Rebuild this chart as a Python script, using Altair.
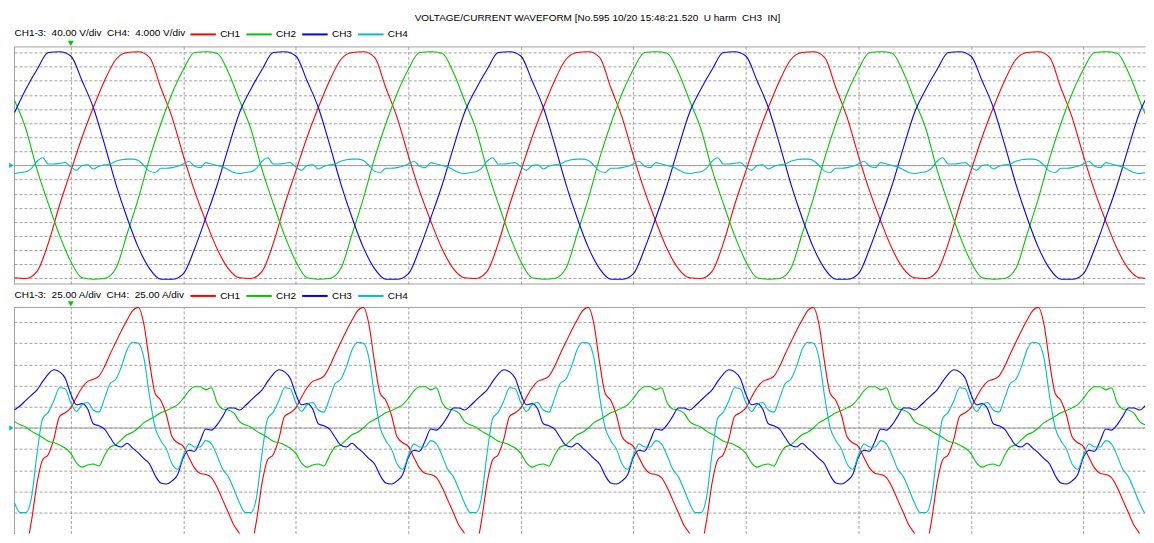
import altair as alt
import pandas as pd

FONT = "Liberation Sans"
GRAY = "#a0a0a0"
NB = "\u00a0"

TITLE = f"VOLTAGE/CURRENT WAVEFORM [No.595 10/20 15:48:21.520{NB}{NB}U harm{NB}{NB}CH3{NB}{NB}IN]"
V_SCALE_TEXT = f"CH1-3:{NB}{NB}40.00 V/div{NB}{NB}CH4:{NB}{NB}4.000 V/div"
I_SCALE_TEXT = f"CH1-3:{NB}{NB}25.00 A/div{NB}{NB}CH4:{NB}{NB}25.00 A/div"

CHANNELS = ["CH1", "CH2", "CH3", "CH4"]
COLORS = ["#ff0000", "#00c800", "#0000ff", "#00c0c0"]

PERIOD_MS = 20.0
N_PERIODS = 6
T_MIN, T_MAX = -0.05, 100.48
TIME_GRID = [5, 15, 25, 35, 45, 55, 65, 75, 85, 95]
TRIGGER_MS = 5.0

V_GRID = list(range(-8, 9))
V_DOMAIN = [-8.39, 8.43]
I_GRID = list(range(-5, 6))
I_DOMAIN = [-4.99, 5.72]

# ---- voltage, one period, divisions (1 ms steps for CH1-3, 0.5 ms for CH4)
V_STEP = 1.0
V_CH1 = [-7.95, -8.0, -7.5, -5.5, -2.8, -0.4, 2.0, 4.1, 6.0, 7.5,
         8.0, 8.05, 7.65, 5.5, 3.4, 0.7, -1.8, -3.95, -5.9, -7.3]
V_CH2 = [4.6, 2.6, -0.3, -2.7, -4.95, -6.8, -7.95, -8.05, -8.0, -7.3,
         -4.85, -2.35, 0.5, 2.95, 5.1, 6.8, 8.0, 8.05, 7.95, 6.6]
V_CH3 = [3.75, 5.4, 6.8, 8.0, 8.05, 7.75, 6.0, 4.1, 1.5, -1.3,
         -3.7, -5.8, -7.3, -8.05, -8.05, -7.67, -5.9, -3.7, -1.4, 1.25]
V4_STEP = 0.5
V_CH4 = [-0.57, -0.5, -0.45, -0.2, 0.3, 0.55, 0.1, 0.1, 0.15, 0.2,
         -0.1, -0.35, 0.0, 0.05, -0.25, -0.05, 0.05, 0.1, 0.3, 0.4,
         0.45, 0.45, 0.35, 0.0, -0.4, -0.5, -0.2, -0.2, -0.15, -0.05,
         0.1, 0.3, -0.05, -0.15, 0.2, 0.1, 0.0, -0.1, -0.3, -0.5]

# ---- current, one period, divisions (0.5 ms steps)
I_STEP = 0.5
I_CH1 = [-5.0, -5.7, -5.6, -4.4, -2.6, -1.5, -1.25, -0.5, 0.55, 0.72,
         0.95, 1.45, 1.9, 2.2, 2.3, 2.45, 2.9, 3.5, 4.05, 4.6,
         5.1, 5.55, 5.7, 4.9, 3.1, 1.63, 1.3, 0.6, -0.42, -0.7,
         -0.87, -1.4, -1.9, -2.15, -2.2, -2.35, -2.8, -3.4, -4.0, -4.6]
I_CH2 = [0.3, 0.15, 0.05, -0.15, -0.3, -0.45, -0.63, -0.7, -0.8, -0.95,
         -1.2, -1.65, -1.85, -1.75, -1.7, -1.8, -1.3, -0.9, -0.8, -0.55,
         -0.32, -0.2, 0.0, 0.25, 0.4, 0.55, 0.72, 0.82, 0.95, 1.1,
         1.4, 1.75, 1.95, 1.95, 1.8, 1.9, 1.2, 0.9, 0.85, 0.7]
I_CH3 = [0.85, 1.05, 1.3, 1.55, 1.8, 2.2, 2.55, 2.75, 2.65, 2.35,
         1.6, 1.1, 1.15, 0.9, 0.2, 0.1, -0.05, -0.45, -0.82, -0.9,
         -0.72, -0.95, -1.18, -1.45, -1.7, -2.25, -2.6, -2.65, -2.5, -2.2,
         -1.4, -1.05, -1.1, -0.6, -0.05, -0.1, 0.15, 0.55, 0.94, 0.94]
I_CH4 = [-3.55, -4.0, -4.0, -3.3, -1.2, 0.45, 0.75, 1.3, 1.9, 1.85,
         1.2, 0.78, 1.1, 1.2, 0.85, 0.75, 1.4, 2.1, 2.3, 2.9,
         3.7, 4.05, 4.0, 3.3, 1.5, 0.0, -0.6, -1.0, -1.7, -1.95,
         -1.3, -0.75, -0.9, -0.9, -0.6, -0.75, -1.3, -1.95, -2.3, -2.9]


def tile(values, step, ch):
    rows = []
    for k in range(N_PERIODS):
        for i, v in enumerate(values):
            rows.append({"t": k * PERIOD_MS + i * step, "v": v, "ch": ch})
    return rows


volt_df = pd.DataFrame(
    tile(V_CH1, V_STEP, "CH1") + tile(V_CH2, V_STEP, "CH2")
    + tile(V_CH3, V_STEP, "CH3") + tile(V_CH4, V4_STEP, "CH4")
)
curr_df = pd.DataFrame(
    tile(I_CH1, I_STEP, "CH1") + tile(I_CH2, I_STEP, "CH2")
    + tile(I_CH3, I_STEP, "CH3") + tile(I_CH4, I_STEP, "CH4")
)

PLOT_W = 1133


def panel(df, y_domain, y_grid, height, scale_text, legend_y, text_y, bottom_border, title=None):
    x = alt.X("t:Q", scale=alt.Scale(domain=[T_MIN, T_MAX], nice=False, zero=False),
              axis=alt.Axis(orient="top", title=None, labels=False, ticks=False,
                            domain=True, domainColor=GRAY, domainWidth=1,
                            grid=True, gridColor=GRAY, gridDash=[3, 2], gridWidth=1,
                            values=TIME_GRID))
    y = alt.Y("v:Q", scale=alt.Scale(domain=y_domain, nice=False, zero=False),
              axis=alt.Axis(orient="left", title=None, labels=False, ticks=False,
                            domain=True, domainColor=GRAY, domainWidth=1,
                            grid=True, gridColor=GRAY, gridDash=[3, 2], gridWidth=1,
                            values=y_grid))
    color = alt.Color("ch:N", scale=alt.Scale(domain=CHANNELS, range=COLORS),
                      legend=alt.Legend(orient="none", legendX=175.5, legendY=legend_y,
                                        direction="horizontal", title=None,
                                        symbolType="stroke", symbolSize=650,
                                        symbolStrokeWidth=2, labelFont=FONT,
                                        labelFontSize=10, labelColor="black",
                                        labelOffset=3, columnPadding=1, padding=0))
    rule_vals = [0.0] + ([y_domain[0]] if bottom_border else [])
    rules = alt.Chart(pd.DataFrame({"v": rule_vals})).mark_rule(
        color=GRAY, strokeWidth=1).encode(y=y)
    lines = alt.Chart(df).mark_line(clip=True, strokeWidth=1.1, interpolate="monotone").encode(
        x=x, y=y, color=color)
    trig = alt.Chart(pd.DataFrame({"t": [TRIGGER_MS]})).mark_point(
        shape="triangle-down", filled=True, size=36, color="#00c800", opacity=1
    ).encode(x=x, y=alt.value(-3))
    zero = alt.Chart(pd.DataFrame({"v": [0.0]})).mark_point(
        shape="triangle-right", filled=True, size=28, color="#00c0c0", opacity=1
    ).encode(x=alt.value(-2.5), y=y)
    stext = alt.Chart(pd.DataFrame({"s": [scale_text]})).mark_text(
        align="left", baseline="middle", font=FONT, fontSize=10, color="black"
    ).encode(x=alt.value(0.5), y=alt.value(text_y), text="s:N")
    layers = [rules, lines, trig, zero, stext]
    if title:
        ttext = alt.Chart(pd.DataFrame({"s": [title]})).mark_text(
            align="center", baseline="alphabetic", font=FONT, fontSize=10, color="black"
        ).encode(x=alt.value(584.5), y=alt.value(-25.3), text="s:N")
        layers.append(ttext)
    return alt.layer(*layers).properties(width=PLOT_W, height=height)


top = panel(volt_df, V_DOMAIN, V_GRID, 238, V_SCALE_TEXT, -26, -13, True, TITLE)
bottom = panel(curr_df, I_DOMAIN, I_GRID, 227, I_SCALE_TEXT, -25, -12, False)

chart = alt.vconcat(top, bottom, spacing=23, bounds="flush").resolve_scale(
    color="independent"
).properties(
    padding={"left": 0, "top": 4, "right": 0, "bottom": 0},
    background="white",
).configure_view(stroke="transparent")

chart.save("out.html", embed_options={"renderer": "svg", "actions": False})
